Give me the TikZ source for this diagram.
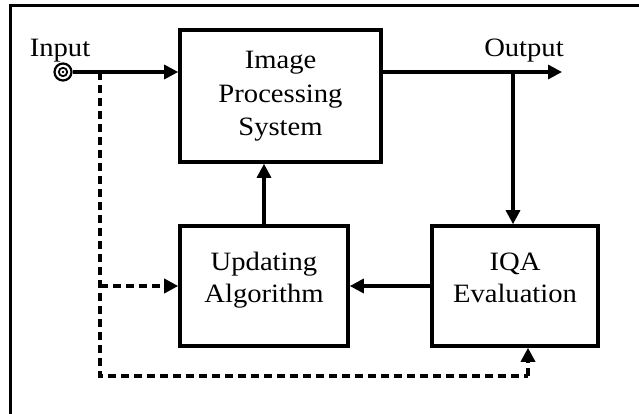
\documentclass[tikz,border=0pt]{standalone}
\usepackage{fontspec}
\setmainfont[FakeStretch=1.08]{Liberation Serif}
\usetikzlibrary{arrows.meta}
\begin{document}
\begin{tikzpicture}[x=1pt,y=-1pt,
  blockbox/.style={draw, line width=3.6pt, inner sep=0pt},
  lbl/.style={anchor=base, inner sep=0pt, font=\fontsize{26.5}{33}\selectfont},
  flow/.style={line width=3.2pt, -{Triangle[length=14pt,width=14pt]}},
  dashline/.style={line width=3.4pt, dash pattern=on 8pt off 5pt},
  dflow/.style={flow, dashline}]
\useasboundingbox (0,0) rectangle (639,414);

% frame (top and left edges)
\draw[line width=3pt] (10,414) -- (10,6) -- (639,6);

% blocks
\node[blockbox, minimum width=201pt, minimum height=132pt] (ips) at (280.5,96) {};
\node[blockbox, minimum width=168pt, minimum height=120pt] (upd) at (264,286) {};
\node[blockbox, minimum width=166pt, minimum height=120pt] (iqa) at (515,286) {};

% block texts
\node[lbl] (ips1) at (280.5,69) {Image};
\node[lbl] (ips2) at (280.5,103) {Processing};
\node[lbl] (ips3) at (280.5,136) {System};
\node[lbl] (upd1) at (264,270) {Updating};
\node[lbl] (upd2) at (264,302) {Algorithm};
\node[lbl] (iqa1) at (515,270) {IQA};
\node[lbl] (iqa2) at (515,302) {Evaluation};

% input terminal
\node[circle, draw, line width=2.2pt, minimum size=17pt, inner sep=0pt] (in) at (63,72) {};
\draw[line width=1.8pt] (in.center) circle (4.2);
\fill (in.center) circle (1.4);
\node[lbl] (inlbl) at (60,57) {Input};
\node[lbl] (outlbl) at (524,57) {Output};

% connection points
\coordinate (out) at (562,72);
\coordinate (tap) at (513,72);
\coordinate (split) at (100,72);
\coordinate (dend) at (528,376);

% solid signal paths
\draw[flow] (in.east) -- (in -| ips.west);
\draw[flow] (ips.east |- out) -- (out);
\draw[flow] (tap) -- (iqa.north -| tap);
\draw[flow] (upd.north) -- (ips.south -| upd.north);
\draw[flow] (iqa.west) -- (upd.east);

% dashed reference paths
\draw[dashline] (split) |- (dend);
\draw[dflow] (dend) -- (iqa.south -| dend);
\draw[dflow] (split |- upd.west) -- (upd.west);
\end{tikzpicture}
\end{document}
